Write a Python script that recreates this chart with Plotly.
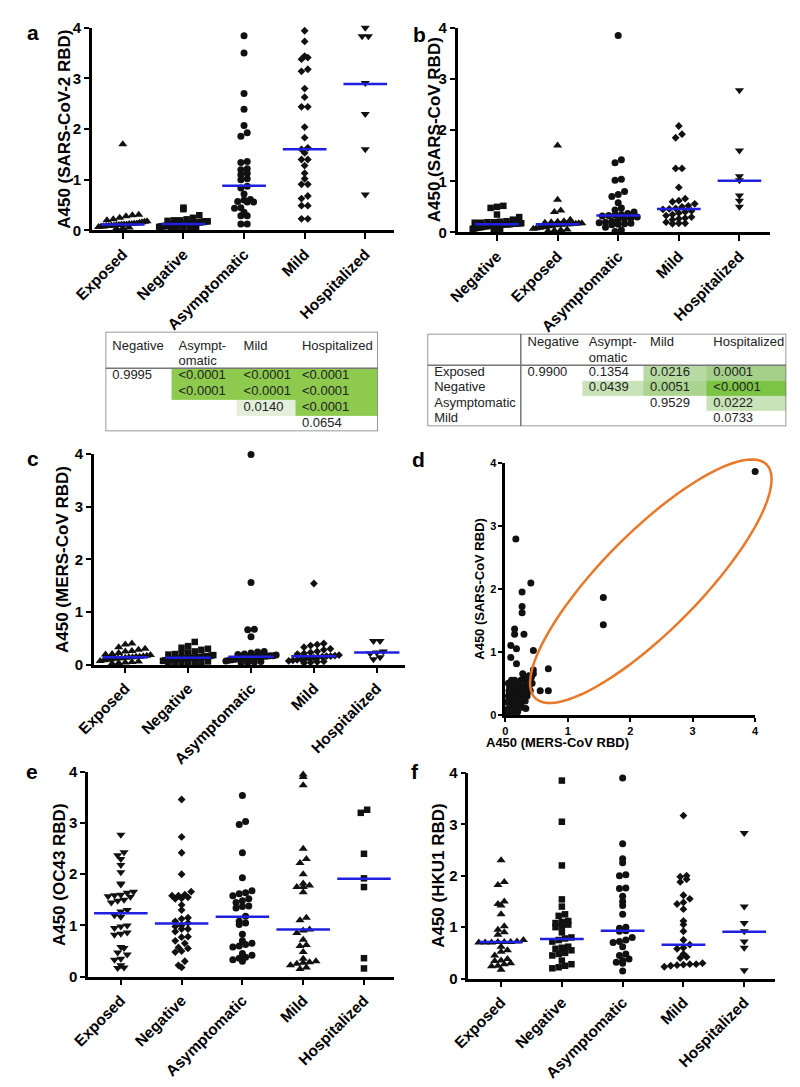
import numpy as np
import plotly.graph_objects as go

W, H = 800, 1087
BLUE = '#1f1fe0'
FONT = 'Liberation Sans, Arial, sans-serif'

groups_main = ['Exposed', 'Negative', 'Asymptomatic', 'Mild', 'Hospitalized']
groups_b = ['Negative', 'Exposed', 'Asymptomatic', 'Mild', 'Hospitalized']

# ---- a: SARS-CoV-2 RBD ----
a_exposed = [1.70, 0.31, 0.30, 0.28, 0.25, 0.22, 0.20, 0.18, 0.17, 0.16, 0.15, 0.14, 0.14, 0.13, 0.13,
             0.12, 0.12, 0.12, 0.11, 0.11, 0.10, 0.10, 0.09, 0.09, 0.08, 0.08, 0.07, 0.06, 0.05, 0.04]
a_negative = [0.45, 0.42, 0.30, 0.25, 0.22, 0.20, 0.20, 0.19, 0.18, 0.18, 0.17, 0.17, 0.16, 0.16, 0.15,
              0.15, 0.15, 0.14, 0.14, 0.14, 0.13, 0.13, 0.13, 0.12, 0.12, 0.12, 0.11, 0.11, 0.10, 0.10,
              0.09, 0.09, 0.08, 0.08, 0.07, 0.06, 0.05, 0.05, 0.04, 0.03]
a_asymp = [3.84, 3.50, 2.70, 2.39, 2.07, 1.93, 1.86, 1.36, 1.34, 1.22, 1.20, 1.13, 1.10, 1.02, 1.00,
           0.87, 0.84, 0.72, 0.61, 0.60, 0.57, 0.56, 0.56, 0.45, 0.44, 0.36, 0.29, 0.29, 0.13, 0.13]
a_mild = [3.94, 3.73, 3.44, 3.41, 3.38, 3.18, 3.14, 2.80, 2.63, 2.44, 2.44, 2.04, 1.83, 1.63, 1.60,
          1.53, 1.40, 1.40, 1.28, 1.13, 1.02, 0.91, 0.91, 0.68, 0.63, 0.49, 0.49, 0.23, 0.23]
a_hosp = [4.00, 3.83, 3.83, 2.91, 2.30, 1.60, 0.71]
a_medians = [0.12, 0.13, 0.88, 1.60, 2.89]

# ---- b: SARS-CoV RBD ----
b_negative = [0.52, 0.50, 0.48, 0.35, 0.30, 0.25, 0.22, 0.21, 0.20, 0.20, 0.19, 0.19, 0.18, 0.18, 0.18,
              0.17, 0.17, 0.17, 0.16, 0.16, 0.16, 0.16, 0.15, 0.15, 0.15, 0.14, 0.14, 0.14, 0.13, 0.13,
              0.12, 0.12, 0.11, 0.10, 0.10, 0.09, 0.08, 0.07, 0.05, 0.03]
b_exposed = [1.70, 0.64, 0.43, 0.40, 0.25, 0.22, 0.21, 0.20, 0.19, 0.18, 0.18, 0.17, 0.17, 0.16, 0.16,
             0.16, 0.15, 0.15, 0.14, 0.13, 0.12, 0.11, 0.10, 0.09, 0.08, 0.07, 0.06, 0.05, 0.04, 0.03]
b_asymp = [3.85, 1.42, 1.36, 1.04, 1.02, 0.80, 0.74, 0.70, 0.58, 0.48, 0.44, 0.40, 0.37, 0.35, 0.34,
           0.33, 0.32, 0.30, 0.28, 0.27, 0.25, 0.22, 0.20, 0.19, 0.18, 0.17, 0.16, 0.15, 0.10, 0.05, 0.02]
b_mild = [2.08, 1.92, 1.85, 1.25, 1.25, 0.88, 0.66, 0.62, 0.60, 0.56, 0.52, 0.50, 0.47, 0.46, 0.45,
          0.42, 0.40, 0.38, 0.35, 0.33, 0.30, 0.28, 0.27, 0.25, 0.20, 0.18, 0.18, 0.17]
b_hosp = [2.78, 1.60, 1.10, 1.02, 0.72, 0.62, 0.50]
b_medians = [0.16, 0.16, 0.33, 0.46, 1.01]

# ---- c: MERS-CoV RBD ----
c_exposed = [0.40, 0.38, 0.33, 0.30, 0.28, 0.26, 0.25, 0.22, 0.20, 0.19, 0.18, 0.17, 0.16, 0.15, 0.15,
             0.14, 0.14, 0.13, 0.12, 0.12, 0.11, 0.10, 0.09, 0.08, 0.07, 0.06, 0.05, 0.04, 0.03, 0.02]
c_negative = [0.43, 0.35, 0.32, 0.30, 0.28, 0.25, 0.23, 0.22, 0.20, 0.19, 0.18, 0.17, 0.16, 0.16, 0.15,
              0.15, 0.14, 0.14, 0.13, 0.13, 0.13, 0.12, 0.12, 0.12, 0.11, 0.11, 0.10, 0.10, 0.09, 0.09,
              0.08, 0.08, 0.07, 0.06, 0.05, 0.05, 0.04, 0.03, 0.02, 0.02]
c_asymp = [3.99, 1.56, 0.67, 0.66, 0.53, 0.25, 0.24, 0.22, 0.20, 0.19, 0.18, 0.17, 0.17, 0.16, 0.16,
           0.15, 0.15, 0.14, 0.14, 0.13, 0.12, 0.12, 0.11, 0.10, 0.09, 0.08, 0.07, 0.06, 0.05, 0.04, 0.03]
c_mild = [1.54, 0.40, 0.38, 0.36, 0.33, 0.30, 0.28, 0.25, 0.23, 0.21, 0.20, 0.18, 0.17, 0.16, 0.16,
          0.15, 0.14, 0.13, 0.12, 0.11, 0.10, 0.09, 0.08, 0.07, 0.06, 0.05, 0.04, 0.03]
c_hosp = [0.45, 0.45, 0.25, 0.23, 0.21, 0.14, 0.10]
c_medians = [0.14, 0.13, 0.15, 0.16, 0.23]

# ---- d: MERS-CoV (x) vs SARS-CoV (y) ----
d_mers = [4.00, 1.57, 1.57, 0.69, 0.69, 0.56, 0.17, 0.41, 0.27, 0.27, 0.27, 0.30, 0.15, 0.15, 0.45,
          0.09, 0.18, 0.09, 0.18, 0.45,
          0.45, 0.42, 0.43, 0.38, 0.33, 0.30, 0.28, 0.25, 0.20, 0.15, 0.10, 0.05, 0.07, 0.12, 0.18,
          0.22, 0.27, 0.30, 0.35, 0.32, 0.28, 0.25, 0.20, 0.15, 0.10, 0.05, 0.03, 0.08, 0.12, 0.17,
          0.22, 0.27, 0.33, 0.06, 0.10, 0.15, 0.20, 0.04, 0.08, 0.13, 0.18, 0.24, 0.14, 0.09, 0.19,
          0.24, 0.13, 0.06, 0.35, 0.40, 0.02, 0.11, 0.16, 0.21, 0.26, 0.30, 0.36, 0.38]
d_sars = [3.86, 1.86, 1.43, 0.73, 0.38, 0.38, 2.79, 2.09, 1.95, 1.72, 1.62, 1.28, 1.36, 1.28, 1.02,
          1.10, 1.05, 0.91, 0.81, 0.71,
          0.65, 0.60, 0.50, 0.45, 0.55, 0.60, 0.65, 0.55, 0.50, 0.55, 0.55, 0.50, 0.45, 0.42, 0.40,
          0.38, 0.42, 0.35, 0.30, 0.22, 0.25, 0.30, 0.30, 0.32, 0.35, 0.30, 0.20, 0.22, 0.18, 0.20,
          0.15, 0.12, 0.10, 0.10, 0.08, 0.10, 0.05, 0.04, 0.03, 0.05, 0.12, 0.20, 0.25, 0.28, 0.35,
          0.45, 0.48, 0.38, 0.40, 0.38, 0.08, 0.13, 0.15, 0.25, 0.35, 0.45, 0.50, 0.62]

# ---- e: OC43 RBD ----
e_exposed = [2.77, 2.43, 2.37, 2.30, 2.18, 2.04, 1.82, 1.80, 1.66, 1.64, 1.60, 1.59, 1.57, 1.56, 1.50,
             1.48, 1.45, 1.30, 1.27, 1.20, 1.17, 1.00, 0.98, 0.95, 0.86, 0.84, 0.82, 0.58, 0.56, 0.47,
             0.43, 0.35, 0.33, 0.22, 0.18, 0.17]
e_negative = [3.46, 2.73, 2.42, 2.00, 1.66, 1.60, 1.58, 1.58, 1.55, 1.53, 1.52, 1.40, 1.30, 1.15, 1.13,
              1.08, 1.05, 1.00, 0.98, 0.93, 0.93, 0.88, 0.78, 0.77, 0.70, 0.65, 0.57, 0.55, 0.50, 0.48,
              0.30, 0.22, 0.18]
e_asymp = [3.54, 3.03, 2.97, 2.42, 1.93, 1.68, 1.64, 1.62, 1.58, 1.52, 1.48, 1.45, 1.38, 1.37, 1.34,
           1.18, 1.08, 1.05, 1.02, 0.83, 0.70, 0.65, 0.63, 0.60, 0.58, 0.45, 0.42, 0.38, 0.36, 0.33, 0.30]
e_mild = [3.95, 3.90, 3.74, 2.50, 2.30, 2.22, 2.00, 1.82, 1.78, 1.75, 1.75, 1.65, 1.15, 1.10, 0.92,
          0.90, 0.85, 0.72, 0.62, 0.60, 0.48, 0.35, 0.30, 0.28, 0.27, 0.25, 0.22, 0.18, 0.15]
e_hosp = [3.26, 3.20, 2.40, 1.92, 1.75, 0.36, 0.16]
e_medians = [1.24, 1.04, 1.17, 0.92, 1.91]

# ---- f: HKU1 RBD ----
f_exposed = [2.30, 1.88, 1.82, 1.50, 1.45, 1.42, 1.25, 1.02, 0.95, 0.90, 0.85, 0.75, 0.72, 0.71, 0.71,
             0.71, 0.70, 0.70, 0.70, 0.62, 0.55, 0.52, 0.45, 0.38, 0.35, 0.34, 0.30, 0.28, 0.25, 0.24, 0.17]
f_negative = [3.85, 3.05, 2.20, 1.54, 1.40, 1.25, 1.22, 1.12, 1.10, 1.08, 1.05, 1.02, 1.00, 0.90, 0.80,
              0.78, 0.75, 0.72, 0.62, 0.60, 0.58, 0.55, 0.50, 0.48, 0.45, 0.35, 0.28, 0.25, 0.22, 0.20]
f_asymp = [3.90, 2.62, 2.33, 2.25, 2.02, 2.00, 1.76, 1.75, 1.60, 1.50, 1.42, 1.25, 1.00, 0.98, 0.93,
           0.92, 0.80, 0.75, 0.72, 0.70, 0.62, 0.48, 0.45, 0.38, 0.35, 0.32, 0.30, 0.15]
f_mild = [3.17, 2.00, 1.98, 1.93, 1.88, 1.62, 1.55, 1.48, 1.45, 1.35, 1.12, 1.05, 0.92, 0.75, 0.66,
          0.60, 0.58, 0.48, 0.42, 0.40, 0.30, 0.28, 0.28, 0.27, 0.26, 0.25, 0.23]
f_hosp = [2.83, 1.40, 1.08, 0.92, 0.72, 0.60, 0.16]
f_medians = [0.71, 0.77, 0.93, 0.66, 0.91]

# ---- p-value tables ----
ta_header1 = ['Negative', 'Asympt-', 'Mild', 'Hospitalized']
ta_header2 = ['', 'omatic', '', '']
ta_rows = [['0.9995', '<0.0001', '<0.0001', '<0.0001'],
           ['', '<0.0001', '<0.0001', '<0.0001'],
           ['', '', '0.0140', '<0.0001'],
           ['', '', '', '0.0654']]
ta_fill = [[0, 0, 0, 0], [0, 1, 1, 1], [0, 1, 1, 1], [0, 0, 2, 1], [0, 0, 0, 0]]

tb_header1 = ['', 'Negative', 'Asympt-', 'Mild', 'Hospitalized']
tb_header2 = ['', '', 'omatic', '', '']
tb_rows = [['Exposed', '0.9900', '0.1354', '0.0216', '0.0001'],
           ['Negative', '', '0.0439', '0.0051', '<0.0001'],
           ['Asymptomatic', '', '', '0.9529', '0.0222'],
           ['Mild', '', '', '', '0.0733']]
tb_fill = [[0, 0, 0, 0, 0], [0, 0, 0, 3, 4], [0, 0, 5, 6, 7], [0, 0, 0, 0, 5], [0, 0, 0, 0, 0]]

palette = ['#ffffff', '#8dca4e', '#e2efda', '#b7daa2', '#a5d08a', '#c9e3b8', '#abd491', '#7cc444']


def swarm(vals, ppu_x=62.0, ppu_y=52.0, size=6.5, maxhalf=0.4):
    vals = np.asarray(vals, float)
    offs = np.zeros(len(vals))
    keys = np.round(vals * ppu_y / size).astype(int)
    for k in np.unique(keys):
        idx = np.where(keys == k)[0]
        idx = idx[np.argsort(vals[idx])]
        n = len(idx)
        if n == 1:
            continue
        step = size / ppu_x
        if (n - 1) * step / 2 > maxhalf:
            step = 2 * maxhalf / (n - 1)
        offs[idx] = (np.arange(n) - (n - 1) / 2) * step
    return offs


SIZES = {'circle': 7, 'square': 6.5, 'diamond': 6, 'triangle-up': 8, 'triangle-down': 8}


def dot_panel(fig, n, series, symbols, medians, halfw):
    xa, ya = 'x%d' % n, 'y%d' % n
    for i, (vals, sym) in enumerate(zip(series, symbols)):
        off = swarm(vals)
        fig.add_trace(go.Scatter(x=i + off, y=vals, mode='markers', xaxis=xa, yaxis=ya,
                                 marker=dict(symbol=sym, size=SIZES[sym], color='#111111', line=dict(width=0)),
                                 cliponaxis=False, hoverinfo='skip'))
    xs, ys = [], []
    for i, m in enumerate(medians):
        xs += [i - halfw, i + halfw, None]
        ys += [m, m, None]
    fig.add_trace(go.Scatter(x=xs, y=ys, mode='lines', xaxis=xa, yaxis=ya,
                             line=dict(color=BLUE, width=2.5), cliponaxis=False, hoverinfo='skip'))


def table_panel(fig, n, widths, heights, header_y, header1, header2, rows, fill):
    xa, ya = 'x%d' % n, 'y%d' % n
    xe = np.concatenate([[0], np.cumsum(widths)])
    ye = np.concatenate([[0], np.cumsum(heights)])
    npal = len(palette)
    cs = []
    for i, c in enumerate(palette):
        cs += [[i / npal, c], [(i + 1) / npal, c]]
    fig.add_trace(go.Heatmap(z=fill, x=xe, y=ye, xaxis=xa, yaxis=ya, colorscale=cs,
                             zmin=-0.5, zmax=npal - 0.5, showscale=False, hoverinfo='skip'))
    left = xe[:-1] + 7
    txt_x, txt_y, txt = [], [], []
    for j in range(len(widths)):
        if header1[j]:
            txt_x.append(left[j]); txt_y.append(header_y[0]); txt.append(header1[j])
        if header2[j]:
            txt_x.append(left[j]); txt_y.append(header_y[1]); txt.append(header2[j])
    for r, row in enumerate(rows):
        yc = (ye[r + 1] + ye[r + 2]) / 2
        for j, t in enumerate(row):
            if t:
                txt_x.append(left[j]); txt_y.append(yc); txt.append(t)
    fig.add_trace(go.Scatter(x=txt_x, y=txt_y, text=txt, mode='text', textposition='middle right',
                             textfont=dict(family=FONT, size=13, color='#222222'),
                             xaxis=xa, yaxis=ya, cliponaxis=False, hoverinfo='skip'))
    line = dict(color='#777777', width=1.5)
    fig.add_shape(type='rect', xref=xa, yref=ya, x0=0, x1=xe[-1], y0=0, y1=ye[-1], line=line)
    fig.add_shape(type='line', xref=xa, yref=ya, x0=0, x1=xe[-1], y0=ye[1], y1=ye[1], line=line)
    return xe, ye


def dx(l, r):
    return [l / W, r / W]


def dy(t, b):
    return [1 - b / H, 1 - t / H]


fig = go.Figure()

dot_panel(fig, 1, [a_exposed, a_negative, a_asymp, a_mild, a_hosp],
          ['triangle-up', 'square', 'circle', 'diamond', 'triangle-down'], a_medians, 0.36)
dot_panel(fig, 2, [b_negative, b_exposed, b_asymp, b_mild, b_hosp],
          ['square', 'triangle-up', 'circle', 'diamond', 'triangle-down'], b_medians, 0.36)
dot_panel(fig, 3, [c_exposed, c_negative, c_asymp, c_mild, c_hosp],
          ['triangle-up', 'square', 'circle', 'diamond', 'triangle-down'], c_medians, 0.36)
dot_panel(fig, 5, [e_exposed, e_negative, e_asymp, e_mild, e_hosp],
          ['triangle-down', 'diamond', 'circle', 'triangle-up', 'square'], e_medians, 0.44)
dot_panel(fig, 6, [f_exposed, f_negative, f_asymp, f_mild, f_hosp],
          ['triangle-up', 'square', 'circle', 'diamond', 'triangle-down'], f_medians, 0.36)

fig.add_trace(go.Scatter(x=d_mers, y=d_sars, mode='markers', xaxis='x4', yaxis='y4',
                         marker=dict(symbol='circle', size=7, color='#111111'),
                         cliponaxis=False, hoverinfo='skip'))

# panel d axes placement (also used for the ellipse, which runs past the axis range)
d_xdom, d_ydom, d_range = dx(501, 758), dy(461, 717), [0, 4]

# orange ellipse around the cross-reactive samples, mapped to paper coords so it is not clipped
cx, cy, ra, rb, ang = 2.33, 2.12, 2.62, 0.78, np.pi / 4
t = np.linspace(0, 2 * np.pi, 90)
ex = cx + ra * np.cos(t) * np.cos(ang) - rb * np.sin(t) * np.sin(ang)
ey = cy + ra * np.cos(t) * np.sin(ang) + rb * np.sin(t) * np.cos(ang)
px = d_xdom[0] + (ex - d_range[0]) / (d_range[1] - d_range[0]) * (d_xdom[1] - d_xdom[0])
py = d_ydom[0] + (ey - d_range[0]) / (d_range[1] - d_range[0]) * (d_ydom[1] - d_ydom[0])
path = 'M ' + ' L '.join('%.5f,%.5f' % (a, b) for a, b in zip(px, py)) + ' Z'
fig.add_shape(type='path', path=path, xref='paper', yref='paper', line=dict(color='#e8782a', width=2.5))

table_panel(fig, 7, [68, 67, 60, 85], [37, 16, 16, 16, 16], (15, 30),
            ta_header1, ta_header2, ta_rows, ta_fill)
xe_b, ye_b = table_panel(fig, 8, [96, 63, 63, 65, 82], [32, 15.5, 15.5, 15.5, 15.5], (9, 25),
                         tb_header1, tb_header2, tb_rows, tb_fill)
fig.add_shape(type='line', xref='x8', yref='y8', x0=xe_b[1], x1=xe_b[1], y0=0, y1=ye_b[-1],
              line=dict(color='#777777', width=1.5))

axis_common = dict(showline=True, linecolor='black', linewidth=2.5, ticks='outside', ticklen=6,
                   tickwidth=2, tickcolor='black', showgrid=False, zeroline=False,
                   tickfont=dict(family=FONT, size=15, weight='bold', color='black'))

panels = {1: (dx(76, 387), dy(19, 225), [-0.51, 4.48], groups_main),
          2: (dx(452, 773), dy(19, 227), [-0.65, 4.5], groups_b),
          3: (dx(78, 398), dy(452, 666), [-0.5, 4.45], groups_main),
          5: (dx(72, 387), dy(775, 983), [-0.54, 4.5], groups_main),
          6: (dx(463, 778), dy(776, 985), [-0.54, 4.5], groups_main)}

layout = dict(width=W, height=H, margin=dict(l=0, r=0, t=0, b=0), showlegend=False,
              plot_bgcolor='white', paper_bgcolor='white', font=dict(family=FONT, color='black'))

for n, (xd, yd, xr, cats) in panels.items():
    xk = 'xaxis' if n == 1 else 'xaxis%d' % n
    yk = 'yaxis' if n == 1 else 'yaxis%d' % n
    layout[xk] = dict(axis_common, domain=xd, range=xr, anchor='y%d' % n if n > 1 else 'y',
                      tickvals=list(range(len(cats))), ticktext=cats, tickangle=-45,
                      tickfont=dict(family=FONT, size=15.5, weight='bold', color='black'))
    layout[yk] = dict(axis_common, domain=yd, range=[0, 4], anchor='x%d' % n if n > 1 else 'x',
                      tickvals=[0, 1, 2, 3, 4], ticklen=5)

small = dict(axis_common, ticklen=4, tickwidth=1.5,
             tickfont=dict(family=FONT, size=11, weight='bold', color='black'))
layout['xaxis4'] = dict(small, domain=d_xdom, range=d_range, anchor='y4', tickvals=[0, 1, 2, 3, 4])
layout['yaxis4'] = dict(small, domain=d_ydom, range=d_range, anchor='x4', tickvals=[0, 1, 2, 3, 4])

layout['xaxis7'] = dict(domain=dx(90, 370), range=[0, 280], anchor='y7', visible=False)
layout['yaxis7'] = dict(domain=dy(328, 429), range=[101, 0], anchor='x7', visible=False)
layout['xaxis8'] = dict(domain=dx(421, 790), range=[0, 369], anchor='y8', visible=False)
layout['yaxis8'] = dict(domain=dy(330, 424), range=[94, 0], anchor='x8', visible=False)

fig.update_layout(**layout)

# y-axis titles and panel letters
ytitles = [('A450 (SARS-CoV-2 RBD)', 47, (19 + 225) / 2, 17),
           ('A450 (SARS-CoV RBD)', 428, (19 + 227) / 2, 17),
           ('A450 (MERS-CoV RBD)', 45, (452 + 666) / 2, 17),
           ('A450 (SARS-CoV RBD)', 475, (461 + 717) / 2, 13),
           ('A450 (OC43 RBD)', 42, (775 + 983) / 2, 17),
           ('A450 (HKU1 RBD)', 433, (776 + 985) / 2, 17)]
for text, tx, ty, fs in ytitles:
    fig.add_annotation(text=text, x=tx / W, y=1 - ty / H, xref='paper', yref='paper', textangle=-90,
                       showarrow=False, xanchor='center', yanchor='middle',
                       font=dict(family=FONT, size=fs, weight='bold', color='black'))
fig.add_annotation(text='A450 (MERS-CoV RBD)', x=630 / W, y=1 - 755 / H, xref='paper', yref='paper',
                   showarrow=False, font=dict(family=FONT, size=13, weight='bold', color='black'))

letters = [('a', 15, 24), ('b', 413, 26), ('c', 15, 457), ('d', 412, 458), ('e', 14, 775), ('f', 408, 775)]
for text, tx, ty in letters:
    fig.add_annotation(text=text, x=tx / W, y=1 - ty / H, xref='paper', yref='paper', showarrow=False,
                       xanchor='center', yanchor='middle',
                       font=dict(family=FONT, size=21, weight='bold', color='black'))

fig.write_html('out.html', config={'displayModeBar': False},
               post_script="document.body.style.margin='0';")
